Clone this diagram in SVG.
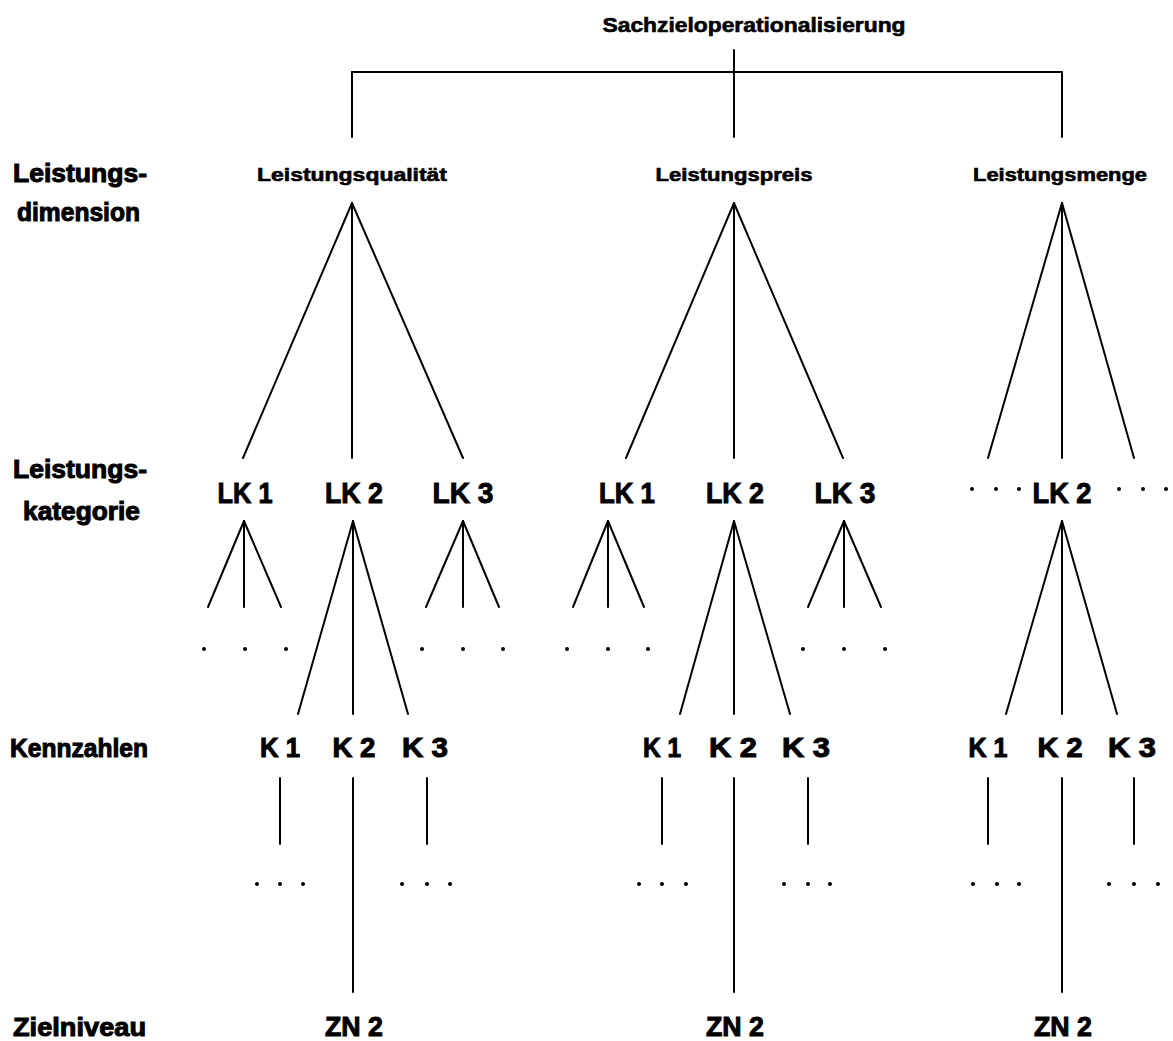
<svg xmlns="http://www.w3.org/2000/svg" width="1173" height="1041" viewBox="0 0 1173 1041">
<style>
text{font-family:"Liberation Sans",Arial,sans-serif;font-weight:bold;fill:#000;stroke:#000;stroke-width:1}
.t{font-size:20px;stroke-width:0.6}
.d{font-size:18px;stroke-width:0.6}
.lab{font-size:25px}
.lk{font-size:30px}
.k{font-size:27px}
.c{text-anchor:middle}
#connectors line{stroke:#000;stroke-width:2;stroke-linecap:round}
.dot{fill:#000}
</style>
<rect width="1173" height="1041" fill="#fff"/>
<g id="connectors">
<line x1="352" y1="72" x2="1062" y2="72"/>
<line x1="734" y1="50" x2="734" y2="137"/>
<line x1="352" y1="72" x2="352" y2="137"/>
<line x1="1062" y1="72" x2="1062" y2="137"/>
<line x1="352" y1="203" x2="243" y2="458"/>
<line x1="352" y1="203" x2="352" y2="458"/>
<line x1="352" y1="203" x2="463" y2="458"/>
<line x1="734" y1="203" x2="626" y2="458"/>
<line x1="734" y1="203" x2="734" y2="458"/>
<line x1="734" y1="203" x2="843" y2="458"/>
<line x1="1062" y1="203" x2="988" y2="458"/>
<line x1="1062" y1="203" x2="1062" y2="458"/>
<line x1="1062" y1="203" x2="1134" y2="458"/>
<line x1="244" y1="521" x2="208" y2="607"/>
<line x1="244" y1="521" x2="244" y2="607"/>
<line x1="244" y1="521" x2="281" y2="607"/>
<line x1="353" y1="521" x2="298" y2="714"/>
<line x1="353" y1="521" x2="353" y2="714"/>
<line x1="353" y1="521" x2="408" y2="714"/>
<line x1="463" y1="521" x2="426" y2="607"/>
<line x1="463" y1="521" x2="463" y2="607"/>
<line x1="463" y1="521" x2="499" y2="607"/>
<line x1="608" y1="521" x2="573" y2="607"/>
<line x1="608" y1="521" x2="608" y2="607"/>
<line x1="608" y1="521" x2="644" y2="607"/>
<line x1="734" y1="521" x2="680" y2="714"/>
<line x1="734" y1="521" x2="734" y2="714"/>
<line x1="734" y1="521" x2="790" y2="714"/>
<line x1="844" y1="521" x2="808" y2="607"/>
<line x1="844" y1="521" x2="844" y2="607"/>
<line x1="844" y1="521" x2="881" y2="607"/>
<line x1="1062" y1="521" x2="1006" y2="714"/>
<line x1="1062" y1="521" x2="1062" y2="714"/>
<line x1="1062" y1="521" x2="1117" y2="714"/>
<line x1="280" y1="778" x2="280" y2="844"/>
<line x1="353" y1="778" x2="353" y2="992"/>
<line x1="427" y1="778" x2="427" y2="844"/>
<line x1="662" y1="778" x2="662" y2="844"/>
<line x1="734" y1="778" x2="734" y2="992"/>
<line x1="808" y1="778" x2="808" y2="844"/>
<line x1="988" y1="778" x2="988" y2="844"/>
<line x1="1062" y1="778" x2="1062" y2="992"/>
<line x1="1134" y1="778" x2="1134" y2="844"/>
</g>
<g id="dots" class="dot">
<circle cx="204" cy="649" r="2"/><circle cx="245" cy="649" r="2"/><circle cx="286" cy="649" r="2"/>
<circle cx="422" cy="649" r="2"/><circle cx="463" cy="649" r="2"/><circle cx="503" cy="649" r="2"/>
<circle cx="567" cy="649" r="2"/><circle cx="608" cy="649" r="2"/><circle cx="648" cy="649" r="2"/>
<circle cx="803" cy="649" r="2"/><circle cx="844" cy="649" r="2"/><circle cx="885" cy="649" r="2"/>
<circle cx="972" cy="489" r="2"/><circle cx="996" cy="489" r="2"/><circle cx="1019" cy="489" r="2"/>
<circle cx="1119" cy="489" r="2"/><circle cx="1143" cy="489" r="2"/><circle cx="1166" cy="489" r="2"/>
<circle cx="257" cy="884" r="2"/><circle cx="280" cy="884" r="2"/><circle cx="303" cy="884" r="2"/>
<circle cx="402" cy="884" r="2"/><circle cx="427" cy="884" r="2"/><circle cx="450" cy="884" r="2"/>
<circle cx="639" cy="884" r="2"/><circle cx="662" cy="884" r="2"/><circle cx="686" cy="884" r="2"/>
<circle cx="784" cy="884" r="2"/><circle cx="808" cy="884" r="2"/><circle cx="830" cy="884" r="2"/>
<circle cx="973" cy="884" r="2"/><circle cx="997" cy="884" r="2"/><circle cx="1019" cy="884" r="2"/>
<circle cx="1109" cy="884" r="2"/><circle cx="1134" cy="884" r="2"/><circle cx="1158" cy="884" r="2"/>
</g>
<g id="labels">
<text class="lab" x="13" y="182" textLength="134" lengthAdjust="spacingAndGlyphs">Leistungs-</text>
<text class="lab" x="17" y="221" textLength="123" lengthAdjust="spacingAndGlyphs">dimension</text>
<text class="lab" x="13" y="478" textLength="134" lengthAdjust="spacingAndGlyphs">Leistungs-</text>
<text class="lab" x="23" y="520" textLength="117" lengthAdjust="spacingAndGlyphs">kategorie</text>
<text class="lab" x="10" y="757" textLength="138" lengthAdjust="spacingAndGlyphs">Kennzahlen</text>
<text class="lab" x="13" y="1036" textLength="133" lengthAdjust="spacingAndGlyphs">Zielniveau</text>
</g>
<g id="root"><text class="t c" x="754" y="32" textLength="303" lengthAdjust="spacingAndGlyphs">Sachzieloperationalisierung</text></g>
<g id="dim-qualitaet"><text class="d c" x="352" y="181" textLength="190" lengthAdjust="spacingAndGlyphs">Leistungsqualität</text></g>
<g id="dim-preis"><text class="d c" x="734" y="181" textLength="157" lengthAdjust="spacingAndGlyphs">Leistungspreis</text></g>
<g id="dim-menge"><text class="d c" x="1060" y="181" textLength="174" lengthAdjust="spacingAndGlyphs">Leistungsmenge</text></g>
<g id="q-lk1"><text class="lk c" x="245" y="503" textLength="55" lengthAdjust="spacingAndGlyphs">LK 1</text></g>
<g id="q-lk2"><text class="lk c" x="354" y="503" textLength="58" lengthAdjust="spacingAndGlyphs">LK 2</text></g>
<g id="q-lk3"><text class="lk c" x="463" y="503" textLength="61" lengthAdjust="spacingAndGlyphs">LK 3</text></g>
<g id="p-lk1"><text class="lk c" x="627" y="503" textLength="56" lengthAdjust="spacingAndGlyphs">LK 1</text></g>
<g id="p-lk2"><text class="lk c" x="735" y="503" textLength="58" lengthAdjust="spacingAndGlyphs">LK 2</text></g>
<g id="p-lk3"><text class="lk c" x="845" y="503" textLength="61" lengthAdjust="spacingAndGlyphs">LK 3</text></g>
<g id="m-lk2"><text class="lk c" x="1062" y="503" textLength="59" lengthAdjust="spacingAndGlyphs">LK 2</text></g>
<g id="q-k1"><text class="k c" x="280" y="757" textLength="40" lengthAdjust="spacingAndGlyphs">K 1</text></g>
<g id="q-k2"><text class="k c" x="354" y="757" textLength="43" lengthAdjust="spacingAndGlyphs">K 2</text></g>
<g id="q-k3"><text class="k c" x="425" y="757" textLength="46" lengthAdjust="spacingAndGlyphs">K 3</text></g>
<g id="p-k1"><text class="k c" x="662" y="757" textLength="38" lengthAdjust="spacingAndGlyphs">K 1</text></g>
<g id="p-k2"><text class="k c" x="733" y="757" textLength="48" lengthAdjust="spacingAndGlyphs">K 2</text></g>
<g id="p-k3"><text class="k c" x="806" y="757" textLength="48" lengthAdjust="spacingAndGlyphs">K 3</text></g>
<g id="m-k1"><text class="k c" x="988" y="757" textLength="39" lengthAdjust="spacingAndGlyphs">K 1</text></g>
<g id="m-k2"><text class="k c" x="1060" y="757" textLength="45" lengthAdjust="spacingAndGlyphs">K 2</text></g>
<g id="m-k3"><text class="k c" x="1132" y="757" textLength="48" lengthAdjust="spacingAndGlyphs">K 3</text></g>
<g id="q-zn2"><text class="k c" x="354" y="1036" textLength="58" lengthAdjust="spacingAndGlyphs">ZN 2</text></g>
<g id="p-zn2"><text class="k c" x="735" y="1036" textLength="58" lengthAdjust="spacingAndGlyphs">ZN 2</text></g>
<g id="m-zn2"><text class="k c" x="1063" y="1036" textLength="58" lengthAdjust="spacingAndGlyphs">ZN 2</text></g>
</svg>
